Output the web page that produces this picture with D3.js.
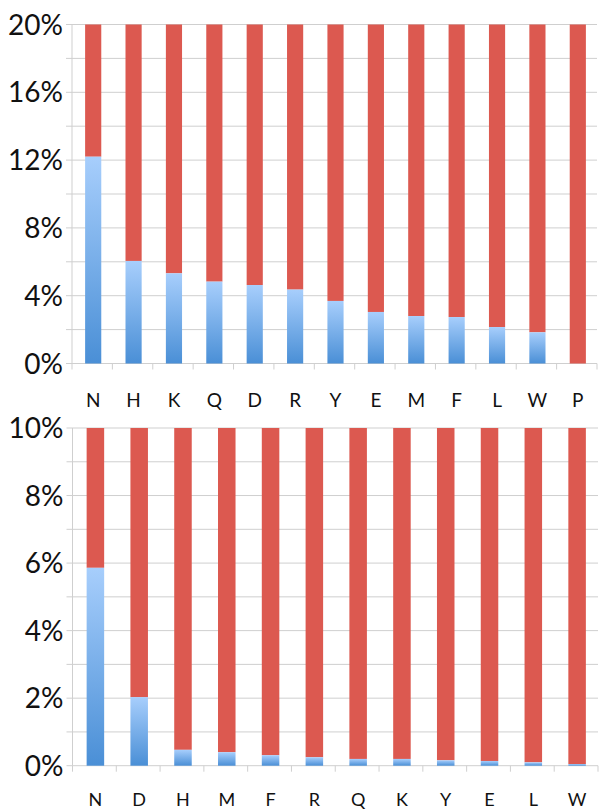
<!DOCTYPE html>
<html>
<head>
<meta charset="utf-8">
<script src="https://cdn.jsdelivr.net/npm/d3@7"></script>
<style>
  body { margin: 0; background: #fff; }
  text { font-family: Lato, "Open Sans", sans-serif; fill: #111; }
</style>
</head>
<body>
<svg width="599" height="810"></svg>
<script>
// top panel
var topCats = ["N", "H", "K", "Q", "D", "R", "Y", "E", "M", "F", "L", "W", "P"];
var topVals = [12.2, 6.05, 5.32, 4.83, 4.63, 4.36, 3.69, 3.04, 2.8, 2.74, 2.15, 1.84, 0];
var topTicks = [0, 4, 8, 12, 16, 20];

// bottom panel
var botCats = ["N", "D", "H", "M", "F", "R", "Q", "K", "Y", "E", "L", "W"];
var botVals = [5.86, 2.03, 0.47, 0.4, 0.31, 0.25, 0.2, 0.2, 0.16, 0.14, 0.1, 0.05];
var botTicks = [0, 2, 4, 6, 8, 10];

var svg = d3.select("svg");

var defs = svg.append("defs");
var grad = defs.append("linearGradient")
    .attr("id", "blue")
    .attr("x1", 0).attr("y1", 0).attr("x2", 0).attr("y2", 1);
grad.append("stop").attr("offset", "0%").attr("stop-color", "#a7cefc");
grad.append("stop").attr("offset", "100%").attr("stop-color", "#4a8fd6");

function panel(cats, vals, ticks, max, box) {
  var g = svg.append("g");

  var x = d3.scaleBand()
    .domain(cats)
    .range([box.left, box.right]);

  var y = d3.scaleLinear()
    .domain([0, max])
    .range([box.bottom, box.top]);

  // gridlines (every half step)
  var grid = d3.range(0, max + 0.001, ticks[1] / 2);
  g.selectAll(".grid")
      .data(grid)
    .enter().append("line")
      .attr("x1", box.left - 6)
      .attr("x2", box.right)
      .attr("y1", d => y(d))
      .attr("y2", d => y(d))
      .style("stroke", "#cfcfcf")
      .style("stroke-width", "1px");

  // y axis line
  g.append("line")
    .attr("x1", box.left).attr("x2", box.left)
    .attr("y1", box.top).attr("y2", box.bottom)
    .style("stroke", "#cfcfcf");

  // x axis ticks at band edges
  var edges = cats.map(c => x(c)).concat([box.right]);
  g.selectAll(".xtick")
      .data(edges)
    .enter().append("line")
      .attr("x1", d => d).attr("x2", d => d)
      .attr("y1", box.bottom).attr("y2", box.bottom + 6)
      .style("stroke", "#cfcfcf");

  // y labels
  g.selectAll(".ylab")
      .data(ticks)
    .enter().append("text")
      .attr("x", box.left - 9)
      .attr("y", d => y(d))
      .attr("dy", "0.36em")
      .attr("text-anchor", "end")
      .style("font-size", "28px")
      .text(d => d + "%");

  // x labels
  g.selectAll(".xlab")
      .data(cats)
    .enter().append("text")
      .attr("x", d => x(d) + x.bandwidth() / 2 + 1)
      .attr("y", box.bottom + box.labelOff)
      .attr("dy", "0.36em")
      .attr("text-anchor", "middle")
      .style("font-size", box.labelSize + "px")
      .text(d => d);

  var bw = x.bandwidth() * 0.4;
  var bars = g.selectAll(".bar")
      .data(cats.map((c, i) => ({ c: c, v: vals[i] })))
    .enter().append("g");

  bars.append("rect")
    .attr("x", d => x(d.c) + (x.bandwidth() - bw) / 2 + 1)
    .attr("width", bw)
    .attr("y", y(max))
    .attr("height", d => y(d.v) - y(max))
    .style("fill", "#dc5950");

  bars.filter(d => d.v > 0).append("rect")
    .attr("x", d => x(d.c) + (x.bandwidth() - bw) / 2 + 1)
    .attr("width", bw)
    .attr("y", d => y(d.v))
    .attr("height", d => y(0) - y(d.v))
    .style("fill", "url(#blue)");
}

panel(topCats, topVals, topTicks, 20, { left: 72, right: 597, top: 24.5, bottom: 363.5, labelOff: 37, labelSize: 19 });
panel(botCats, botVals, botTicks, 10, { left: 72.5, right: 598, top: 428, bottom: 765.7, labelOff: 34, labelSize: 18 });
</script>
</body>
</html>
